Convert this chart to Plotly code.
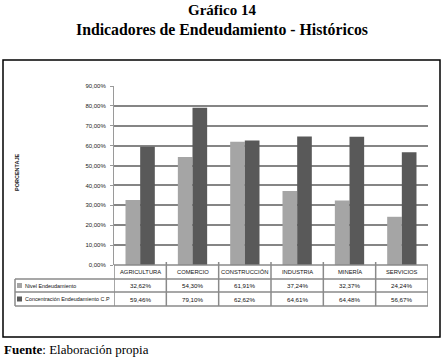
import plotly.graph_objects as go

categories = ["AGRICULTURA", "COMERCIO", "CONSTRUCCIÓN", "INDUSTRIA", "MINERÍA", "SERVICIOS"]
series_names = ["Nivel Endeudamiento", "Concentración Endeudamiento C.P"]
nivel = [32.62, 54.30, 61.91, 37.24, 32.37, 24.24]
concentracion = [59.46, 79.10, 62.62, 64.61, 64.48, 56.67]
y_ticks = [0, 10, 20, 30, 40, 50, 60, 70, 80, 90]

colors = ["#a5a5a5", "#595959"]
series_values = [nivel, concentracion]

W, H = 445, 358
L, R, T, B = 114, 428, 86, 265

def py(p):  # pixel y -> paper y
    return (B - p) / (B - T)

def px(p):  # pixel x -> paper x
    return (p - L) / (R - L)

def pct(v):
    return f"{v:.2f}".replace(".", ",") + "%"

fig = go.Figure()
for name, vals, c in zip(series_names, series_values, colors):
    fig.add_trace(go.Bar(x=list(range(len(categories))), y=vals, name=name,
                         marker=dict(color=c, line=dict(width=0))))

sans = "Liberation Sans Narrow, Liberation Sans, sans-serif"
tick_font = dict(family=sans, size=6, color="#222")
fig.update_layout(
    width=W, height=H,
    margin=dict(l=L, r=W - R, t=T, b=H - B, pad=0),
    paper_bgcolor="white", plot_bgcolor="white",
    showlegend=False,
    barmode="group", bargap=0.44, bargroupgap=0,
    xaxis=dict(range=[-0.5, len(categories) - 0.5], showticklabels=False, showgrid=False,
               zeroline=False, showline=False, ticks=""),
    yaxis=dict(range=[0, 90], tickvals=y_ticks, ticktext=[pct(v) for v in y_ticks],
               tickfont=tick_font, showgrid=True, gridcolor="#858585", gridwidth=2,
               zeroline=False, showline=True, linecolor="#9a9a9a", linewidth=1,
               ticks="outside", ticklen=3, tickcolor="#9a9a9a", ticklabelstandoff=3),
)

shapes = []
ann = []
shapes.append(dict(type="rect", xref="paper", yref="paper", x0=px(3), x1=px(440),
                   y0=py(337), y1=py(60), line=dict(color="black", width=1.5)))
row_edges = [265, 279, 292, 306]
tcol = "#8a8a8a"
n = len(categories)
shapes.append(dict(type="line", xref="x", yref="paper", x0=-0.5, x1=n - 0.5,
                   y0=py(row_edges[0]), y1=py(row_edges[0]), line=dict(color=tcol, width=1.5)))
for r in row_edges[1:]:
    shapes.append(dict(type="line", xref="paper", yref="paper", x0=px(15), x1=1,
                       y0=py(r), y1=py(r), line=dict(color=tcol, width=1.5)))
for i in range(n + 1):
    shapes.append(dict(type="line", xref="x", yref="paper", x0=i - 0.5, x1=i - 0.5,
                       y0=py(row_edges[0] - 3 if 0 < i < n else row_edges[0]), y1=py(row_edges[3]),
                       line=dict(color=tcol, width=1.5)))
shapes.append(dict(type="line", xref="paper", yref="paper", x0=px(15), x1=px(15),
                   y0=py(row_edges[1]), y1=py(row_edges[3]), line=dict(color=tcol, width=1.5)))

hf = dict(family=sans, size=5.8, color="#111")
tf = dict(family=sans, size=6.2, color="#111")
lf = dict(family=sans, size=5.4, color="#111")
for i, cat in enumerate(categories):
    ann.append(dict(x=i, y=py((row_edges[0] + row_edges[1]) / 2), xref="x", yref="paper",
                    text=cat, showarrow=False, font=hf, xanchor="center", yanchor="middle"))
for k, (name, vals, c) in enumerate(zip(series_names, series_values, colors)):
    yc = py((row_edges[k + 1] + row_edges[k + 2]) / 2)
    for i, v in enumerate(vals):
        ann.append(dict(x=i, y=yc, xref="x", yref="paper", text=pct(v), showarrow=False,
                        font=tf, xanchor="center", yanchor="middle"))
    shapes.append(dict(type="rect", xref="paper", yref="paper", x0=px(17), x1=px(22),
                       y0=yc - 2.5 / (B - T), y1=yc + 2.5 / (B - T), fillcolor=c,
                       line=dict(width=0)))
    ann.append(dict(x=px(23), y=yc, xref="paper", yref="paper", text=name, showarrow=False,
                    font=lf, xanchor="left", yanchor="middle"))

ann.append(dict(x=px(17), y=py(172), xref="paper", yref="paper", text="<b>PORCENTAJE</b>",
                textangle=-90, showarrow=False, xanchor="center", yanchor="middle",
                font=dict(family=sans, size=5.5, color="#222")))
serif = "Liberation Serif, DejaVu Serif, serif"
ann.append(dict(x=px(222), y=py(10), xref="paper", yref="paper", text="<b>Gráfico 14</b>",
                showarrow=False, xanchor="center", yanchor="middle",
                font=dict(family=serif, size=15, color="black")))
ann.append(dict(x=px(222), y=py(29), xref="paper", yref="paper",
                text="<b>Indicadores de Endeudamiento - Históricos</b>",
                showarrow=False, xanchor="center", yanchor="middle",
                font=dict(family=serif, size=15.8, color="black")))
ann.append(dict(x=px(2), y=py(349), xref="paper", yref="paper",
                text="<b>Fuente</b>: Elaboración propia",
                showarrow=False, xanchor="left", yanchor="middle",
                font=dict(family=serif, size=13, color="black")))

fig.update_layout(shapes=shapes, annotations=ann)
fig.write_html("out.html", config={"displayModeBar": False},
               post_script="document.body.style.margin='0';document.body.style.overflow='hidden';")
